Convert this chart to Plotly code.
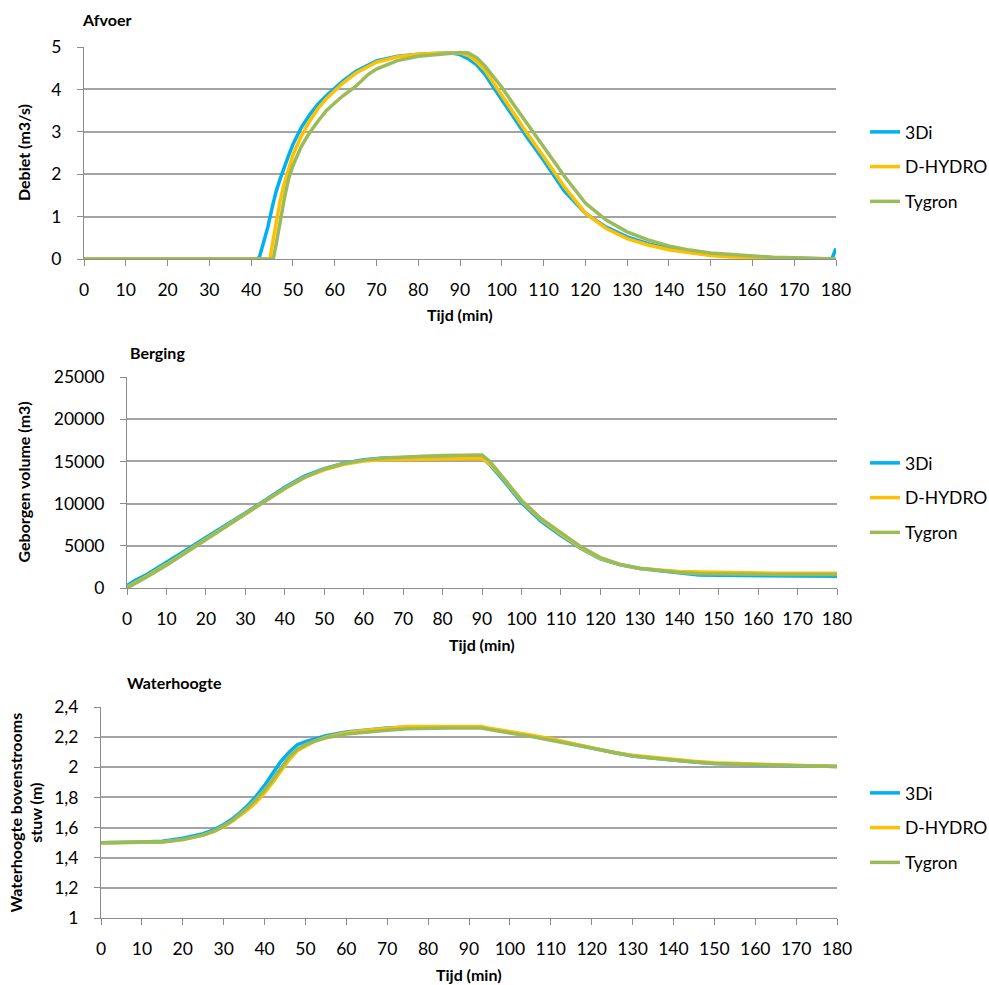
import plotly.graph_objects as go

W, H = 989, 985

# ---------------- Data ----------------
series_names = ["3Di", "D-HYDRO", "Tygron"]
series_colors = ["#00B0F0", "#FFC000", "#9BBB59"]

# Panel 1: Afvoer (m3/s)
afv_t_3di = [0, 41.5, 42, 43, 44, 45, 46, 47, 48, 49, 50, 52, 54, 56, 58, 60, 62, 65, 68, 70, 75, 80, 85, 88, 90,
             92, 94, 96, 98, 100, 103, 106, 110, 115, 120, 125, 130, 135, 140, 145, 150, 155, 160, 165, 170, 175, 179, 180]
afv_3di = [0, 0, 0.05, 0.4, 0.75, 1.2, 1.6, 1.9, 2.2, 2.45, 2.7, 3.1, 3.4, 3.65, 3.85, 4.02, 4.2, 4.42, 4.58, 4.67, 4.78,
           4.83, 4.85, 4.86, 4.82, 4.72, 4.58, 4.35, 4.05, 3.75, 3.3, 2.88, 2.33, 1.6, 1.08, 0.75, 0.52, 0.36, 0.25, 0.16,
           0.1, 0.07, 0.05, 0.03, 0.02, 0.01, 0, 0.25]
afv_t_dhydro = [0, 44.5, 45, 46, 47, 48, 49, 50, 52, 54, 56, 58, 60, 62, 65, 68, 70, 75, 80, 85, 88, 90,
                92, 94, 96, 98, 100, 103, 106, 110, 115, 120, 125, 130, 135, 140, 145, 150, 155, 160, 165, 170, 175, 180]
afv_dhydro = [0, 0, 0.3, 0.9, 1.4, 1.8, 2.15, 2.45, 2.9, 3.25, 3.55, 3.78, 3.97, 4.15, 4.38, 4.55, 4.64, 4.77, 4.83,
              4.85, 4.86, 4.86, 4.8, 4.65, 4.45, 4.15, 3.85, 3.4, 2.97, 2.42, 1.7, 1.08, 0.72, 0.48, 0.33, 0.22, 0.14,
              0.08, 0.05, 0.03, 0.02, 0.01, 0, 0]
afv_t_tygron = [0, 45.3, 46, 47, 48, 49, 50, 52, 54, 56, 58, 60, 62, 65, 68, 70, 75, 80, 85, 88, 90,
                92, 94, 96, 98, 100, 103, 106, 110, 115, 120, 125, 130, 135, 140, 145, 150, 155, 160, 165, 170, 175, 180]
afv_tygron = [0, 0, 0.35, 0.95, 1.45, 1.9, 2.2, 2.65, 2.98, 3.25, 3.5, 3.68, 3.85, 4.07, 4.35, 4.48, 4.68, 4.78, 4.83,
              4.86, 4.87, 4.86, 4.75, 4.55, 4.3, 4.05, 3.62, 3.2, 2.64, 1.95, 1.32, 0.92, 0.64, 0.45, 0.31, 0.21, 0.14,
              0.1, 0.06, 0.04, 0.03, 0.01, 0]

# Panel 2: Berging (m3)
ber_t = [0, 2, 5, 10, 15, 20, 25, 30, 35, 40, 45, 50, 55, 60, 65, 70, 75, 80, 85, 90, 92, 95, 100, 105, 110, 115, 120,
         125, 130, 135, 140, 145, 150, 155, 160, 165, 170, 175, 180]
ber_3di = [300, 900, 1600, 3000, 4500, 6000, 7400, 8900, 10400, 11950, 13250, 14150, 14800, 15200, 15400, 15450, 15450,
           15450, 15450, 15450, 14600, 13000, 10100, 7900, 6200, 4700, 3450, 2750, 2300, 2050, 1850, 1550, 1500, 1500,
           1400, 1400, 1400, 1400, 1400]
ber_dhydro = [100, 600, 1400, 2800, 4300, 5800, 7200, 8700, 10200, 11800, 13100, 14000, 14650, 15050, 15200, 15250,
              15300, 15300, 15350, 15350, 14700, 13200, 10300, 8100, 6400, 4800, 3500, 2800, 2300, 2100, 1950, 1900,
              1850, 1800, 1750, 1750, 1750, 1750, 1750]
ber_tygron = [0, 500, 1300, 2700, 4200, 5700, 7200, 8700, 10200, 11800, 13100, 14100, 14750, 15150, 15400, 15550,
              15600, 15700, 15700, 15750, 15000, 13300, 10400, 8200, 6500, 4900, 3600, 2800, 2350, 2050, 1850, 1700,
              1650, 1600, 1600, 1600, 1600, 1600, 1600]

# Panel 3: Waterhoogte (m)
wh_t = [0, 5, 10, 15, 20, 25, 28, 30, 32, 34, 36, 38, 40, 42, 44, 46, 48, 50, 52, 55, 60, 65, 70, 75, 80, 85, 90, 93,
        95, 100, 105, 110, 115, 120, 125, 130, 135, 140, 145, 150, 155, 160, 165, 170, 175, 180]
wh_3di = [1.5, 1.5, 1.505, 1.51, 1.53, 1.56, 1.59, 1.62, 1.655, 1.70, 1.75, 1.81, 1.88, 1.96, 2.04, 2.10, 2.15, 2.17,
          2.185, 2.21, 2.235, 2.25, 2.26, 2.265, 2.265, 2.265, 2.265, 2.265, 2.255, 2.235, 2.21, 2.185, 2.155, 2.125,
          2.1, 2.075, 2.06, 2.045, 2.035, 2.025, 2.02, 2.015, 2.012, 2.01, 2.008, 2.005]
wh_dhydro = [1.5, 1.5, 1.5, 1.505, 1.52, 1.55, 1.58, 1.605, 1.64, 1.68, 1.72, 1.77, 1.83, 1.9, 1.98, 2.05, 2.11, 2.14,
             2.17, 2.2, 2.23, 2.245, 2.26, 2.27, 2.27, 2.27, 2.27, 2.27, 2.26, 2.24, 2.215, 2.19, 2.16, 2.13, 2.1, 2.08,
             2.065, 2.05, 2.04, 2.03, 2.025, 2.02, 2.015, 2.012, 2.008, 2.005]
wh_tygron = [1.5, 1.5, 1.5, 1.505, 1.52, 1.55, 1.58, 1.61, 1.645, 1.69, 1.735, 1.79, 1.85, 1.92, 2.0, 2.07, 2.12, 2.15,
             2.17, 2.195, 2.22, 2.235, 2.245, 2.255, 2.26, 2.26, 2.26, 2.26, 2.25, 2.23, 2.205, 2.18, 2.155, 2.125, 2.1,
             2.075, 2.06, 2.045, 2.035, 2.025, 2.02, 2.015, 2.012, 2.01, 2.008, 2.005]

x_ticks = list(range(0, 181, 10))
y1_ticks = [0, 1, 2, 3, 4, 5]
y1_text = ["0", "1", "2", "3", "4", "5"]
y2_ticks = [0, 5000, 10000, 15000, 20000, 25000]
y2_text = ["0", "5000", "10000", "15000", "20000", "25000"]
y3_ticks = [1, 1.2, 1.4, 1.6, 1.8, 2, 2.2, 2.4]
y3_text = ["1", "1,2", "1,4", "1,6", "1,8", "2", "2,2", "2,4"]

panel_titles = ["Afvoer", "Berging", "Waterhoogte"]
y_titles = ["Debiet (m3/s)", "Geborgen volume (m3)", "Waterhoogte bovenstrooms<br>stuw (m)"]
x_title = "Tijd (min)"

# ---------------- Layout geometry (pixels) ----------------
FONT = "Lato, 'Open Sans', sans-serif"
TICK_SIZE = 17.5
BOLD_SIZE = 16

panels = [
    dict(x0=84, x1=836, y0=47, y1=259, yr=[0, 5], yt=y1_ticks, ytt=y1_text,
         data=[(afv_t_3di, afv_3di), (afv_t_dhydro, afv_dhydro), (afv_t_tygron, afv_tygron)],
         title_xy=(80, 20), ytitle_x=23, leg_y=167),
    dict(x0=127, x1=837, y0=377, y1=588, yr=[0, 25000], yt=y2_ticks, ytt=y2_text,
         data=[(ber_t, ber_3di), (ber_t, ber_dhydro), (ber_t, ber_tygron)],
         title_xy=(128, 352), ytitle_x=23, leg_y=498),
    dict(x0=101, x1=837, y0=707, y1=918, yr=[1, 2.4], yt=y3_ticks, ytt=y3_text,
         data=[(wh_t, wh_3di), (wh_t, wh_dhydro), (wh_t, wh_tygron)],
         title_xy=(125, 682), ytitle_x=25, leg_y=828),
]

def px_x(p):
    return p / W

def px_y(p):
    return 1 - p / H

fig = go.Figure()
layout = dict(
    width=W, height=H,
    margin=dict(l=0, r=0, t=0, b=0, autoexpand=False),
    paper_bgcolor="white", plot_bgcolor="white",
    font=dict(family=FONT, size=TICK_SIZE, color="#000000"),
    showlegend=True,
    separators=",.",
)
annotations = []
grid_color = "#A3A3A3"
axis_color = "#8C8C8C"

for i, p in enumerate(panels):
    k = i + 1
    xa = "xaxis" if k == 1 else f"xaxis{k}"
    ya = "yaxis" if k == 1 else f"yaxis{k}"
    xref = "x" if k == 1 else f"x{k}"
    yref = "y" if k == 1 else f"y{k}"
    leg = "legend" if k == 1 else f"legend{k}"

    for j, (name, color) in enumerate(zip(series_names, series_colors)):
        t, v = p["data"][j]
        fig.add_trace(go.Scatter(
            x=t, y=v, mode="lines", name=name,
            line=dict(color=color, width=3.5),
            xaxis=xref, yaxis=yref, legend=leg,
            legendgroup=f"{leg}_{name}",
        ))

    layout[xa] = dict(
        domain=[px_x(p["x0"]), px_x(p["x1"])], anchor=yref,
        range=[0, 180], tickvals=x_ticks, ticktext=[str(v) for v in x_ticks],
        showgrid=False, zeroline=False, showline=True, linecolor=axis_color, linewidth=1,
        ticks="outside", ticklen=6, tickcolor=axis_color, tickwidth=1,
        ticklabelstandoff=9, tickfont=dict(size=TICK_SIZE, family=FONT),
    )
    layout[ya] = dict(
        domain=[px_y(p["y1"]), px_y(p["y0"])], anchor=xref,
        range=p["yr"], tickvals=p["yt"], ticktext=p["ytt"],
        showgrid=True, gridcolor=grid_color, gridwidth=1.5, zeroline=False,
        showline=True, linecolor=axis_color, linewidth=1,
        ticks="outside", ticklen=6, tickcolor=axis_color, tickwidth=1,
        ticklabelstandoff=12, tickfont=dict(size=TICK_SIZE, family=FONT),
    )
    layout[leg] = dict(
        x=px_x(865), xanchor="left", y=px_y(p["leg_y"]), yanchor="middle",
        bgcolor="rgba(0,0,0,0)", font=dict(size=TICK_SIZE, family=FONT),
        tracegroupgap=9, itemwidth=30,
    )

    annotations.append(dict(
        text=f"<b>{panel_titles[i]}</b>", x=px_x(p["title_xy"][0]), y=px_y(p["title_xy"][1]),
        xref="paper", yref="paper", xanchor="left", yanchor="middle", showarrow=False,
        font=dict(size=BOLD_SIZE, family=FONT),
    ))
    annotations.append(dict(
        text=f"<b>{y_titles[i]}</b>", x=px_x(p["ytitle_x"]), y=px_y((p["y0"] + p["y1"]) / 2),
        xref="paper", yref="paper", xanchor="center", yanchor="middle", showarrow=False,
        textangle=-90, font=dict(size=BOLD_SIZE, family=FONT),
    ))
    annotations.append(dict(
        text=f"<b>{x_title}</b>", x=px_x((p["x0"] + p["x1"]) / 2), y=px_y(p["y1"] + 56),
        xref="paper", yref="paper", xanchor="center", yanchor="middle", showarrow=False,
        font=dict(size=BOLD_SIZE, family=FONT),
    ))

layout["annotations"] = annotations
fig.update_layout(**layout)
fig.write_html("out.html")
